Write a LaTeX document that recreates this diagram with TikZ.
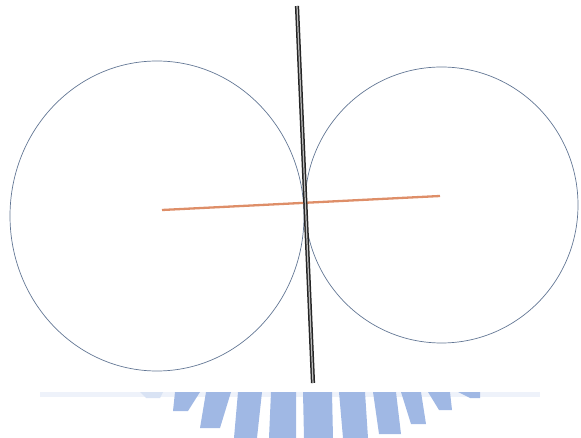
\documentclass[tikz,border=0pt]{standalone}
\usepackage{tikz}
\usetikzlibrary{calc}
\definecolor{rimblue}{RGB}{98,118,148}
\definecolor{axorange}{RGB}{222,142,104}
\definecolor{wmblue}{RGB}{160,184,228}
\tikzset{
  rim/.style={draw=rimblue, line width=0.7pt},
  shaft/.style={draw=black!85, line width=1.5pt, double=gray!50, double distance=1.2pt},
  axl/.style={axorange, line width=2.3pt},
  wbar/.style={fill=wmblue, draw=none},
}

\begin{document}
\begin{tikzpicture}[x=1pt,y=-1pt]
\useasboundingbox (0,0) rectangle (581,438);
\coordinate (lc) at (157,216);
\coordinate (rc) at (441.5,205);
\draw[rim] (lc) ellipse [x radius=147, y radius=155];
\draw[rim] (rc) ellipse [x radius=136.5, y radius=138];
% axle across both wheels
\coordinate (axa) at (162,210);
\coordinate (axb) at (440,196);
\draw[axl] (axa) -- (axb);
% shaft
\coordinate (sht) at (297,6);
\coordinate (shb) at (313,383);
\draw[shaft] (sht) -- (shb);
% watermark bars
\fill[wmblue!18] (40,392) rectangle (540,397);
\fill[wmblue!40] (140,392) -- (163,392) -- (160,398) -- (146,398) -- cycle;
\foreach \xa/\xb/\xc/\xd/\yb in {175/200/188/173/411, 206/231/220/200/428, 238/262/257/234/438,
  271/296/296/269/438, 303/332/333/304/438, 339/365/368/343/438, 373/396/401/379/434,
  401/421/426/411/424, 428/450/452/439/410, 458/480/480/470/398}
  \fill[wbar] (\xa,392) -- (\xb,392) -- (\xc,\yb) -- (\xd,\yb) -- cycle;
\end{tikzpicture}
\end{document}
